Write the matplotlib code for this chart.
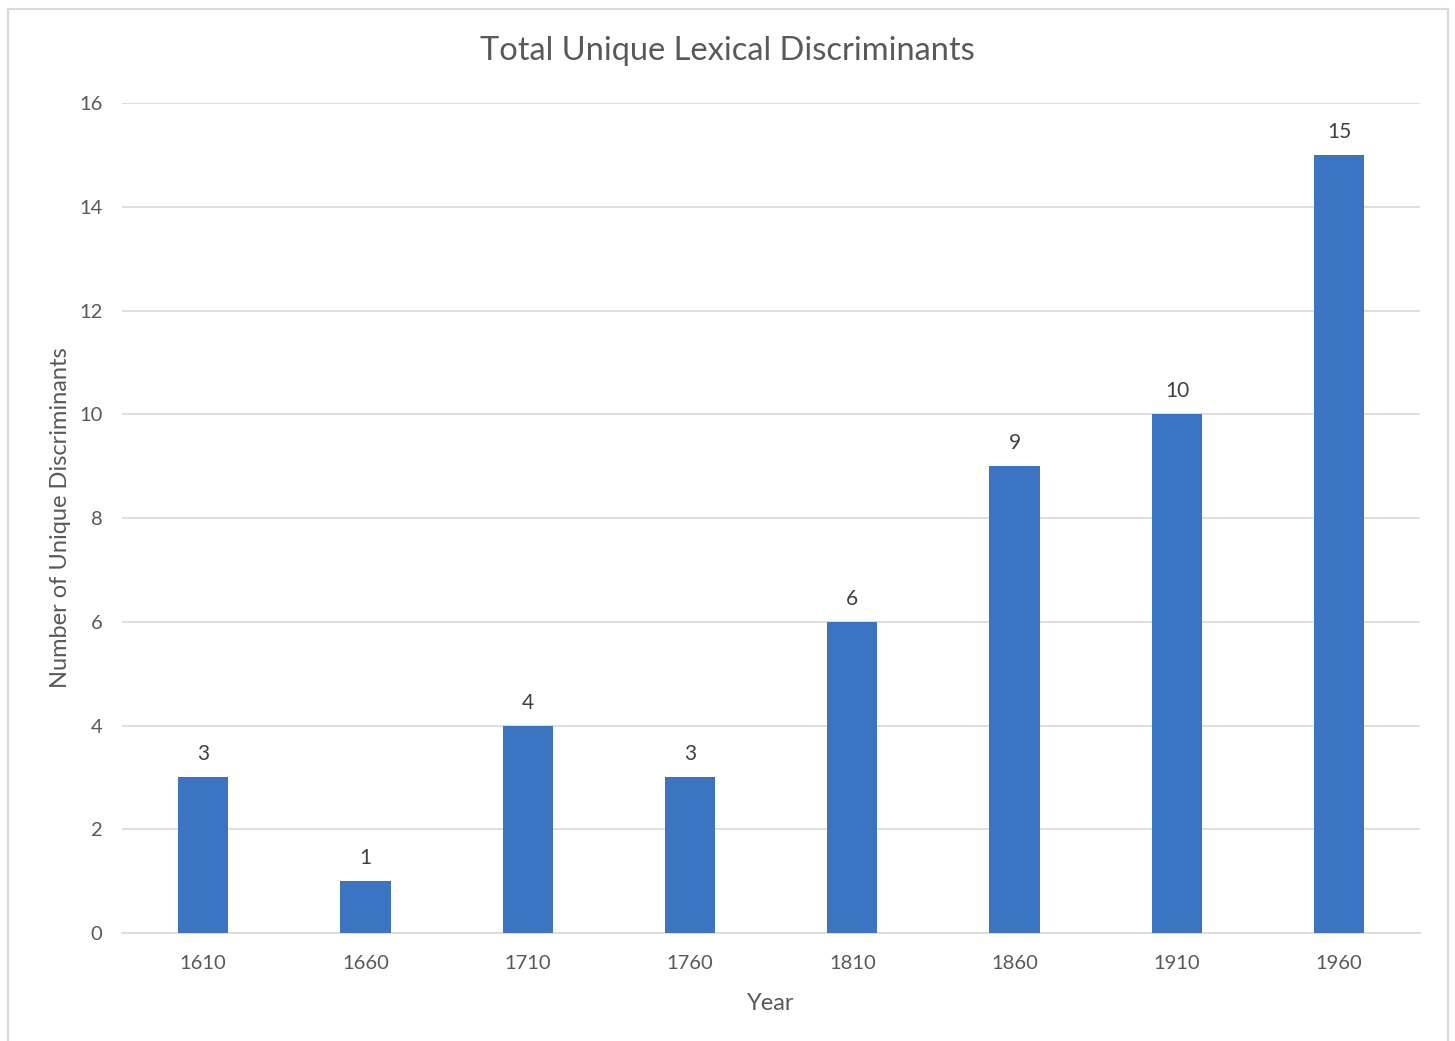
import matplotlib.pyplot as plt
from matplotlib.patches import Rectangle

years = ["1610", "1660", "1710", "1760", "1810", "1860", "1910", "1960"]
counts = [3, 1, 4, 3, 6, 9, 10, 15]

plt.rcParams['font.family'] = ['Lato', 'DejaVu Sans']
text_color = '#595959'
bar_color = '#3B75C2'

fig = plt.figure(figsize=(14.55, 10.41), dpi=100)
ax = fig.add_axes([0.0838, 0.1037, 0.8924, 0.7973])

# chart border
fig.patches.append(Rectangle((8 / 1455, -0.01), 1440 / 1455, 1 - 9 / 1041 + 0.01,
                             transform=fig.transFigure, fill=False,
                             edgecolor='#d9d9d9', linewidth=1.5))

x = range(len(years))
bars = ax.bar(x, counts, width=0.31, color=bar_color, zorder=3)
for b, v in zip(bars, counts):
    ax.text(b.get_x() + b.get_width() / 2, v + 0.25, str(v), ha='center', va='bottom',
            fontsize=15, color='#404040')

ax.set_xlim(-0.5, len(years) - 0.5)
ax.set_ylim(0, 16)
ax.set_yticks(range(0, 17, 2))
ax.set_xticks(list(x))
ax.set_xticklabels(years)
ax.grid(axis='y', color='#d9d9d9', linewidth=1.2, zorder=0)
for s in ['top', 'right', 'left']:
    ax.spines[s].set_visible(False)
ax.spines['bottom'].set_color('#d9d9d9')
ax.spines['bottom'].set_linewidth(1.2)
ax.tick_params(axis='both', length=0, labelsize=14.5, colors=text_color)
ax.tick_params(axis='x', pad=16)
ax.tick_params(axis='y', pad=14)

ax.set_xlabel('Year', fontsize=17, color=text_color, labelpad=15)
ax.set_ylabel('Number of Unique Discriminants', fontsize=17, color=text_color, labelpad=6)
fig.text(0.5, 0.951, 'Total Unique Lexical Discriminants', ha='center', va='center',
         fontsize=23.5, color=text_color)

fig.savefig('out.png', dpi=100)
